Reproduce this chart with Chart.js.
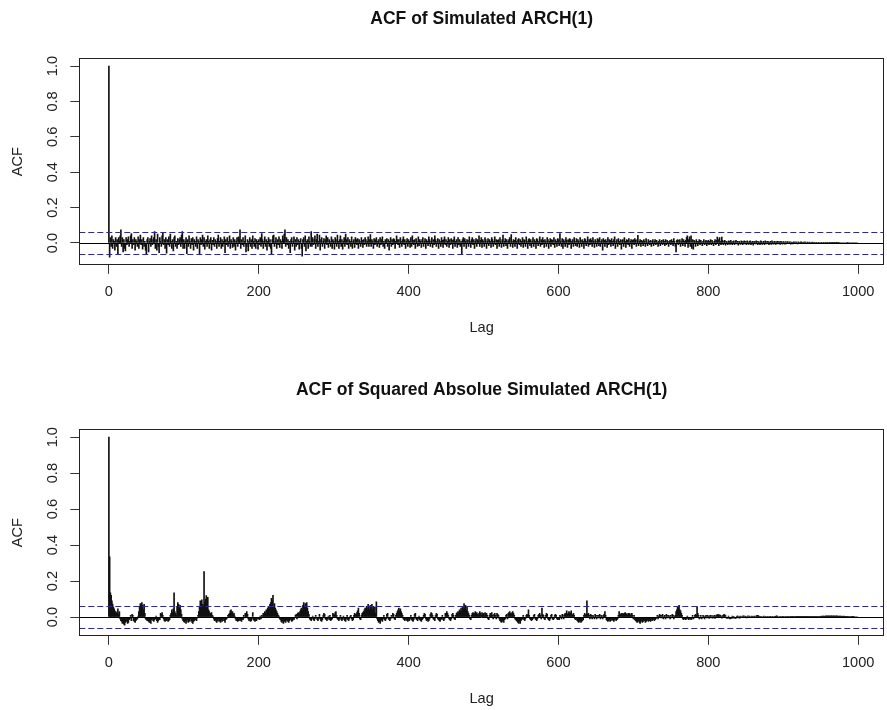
<!DOCTYPE html>
<html><head><meta charset="utf-8">
<script src="https://cdn.jsdelivr.net/npm/chart.js@4.4.1/dist/chart.umd.min.js"></script>
<style>
html,body{margin:0;padding:0;background:#fff;}
#wrap{position:relative;width:887px;height:710px;background:#fff;}
canvas{position:absolute;left:0;}
</style></head><body>
<div id="wrap">
<canvas id="c1" width="887" height="355" style="top:0px"></canvas>
<canvas id="c2" width="887" height="355" style="top:355px"></canvas>
</div>
<script>
// ---------- data ----------
const chartTitles = ['ACF of Simulated ARCH(1)', 'ACF of Squared Absolue Simulated ARCH(1)'];
const xAxisTitle = 'Lag';
const yAxisTitle = 'ACF';
const xTickValues = [0, 200, 400, 600, 800, 1000];
const yTickValues = [0, 0.2, 0.4, 0.6, 0.8, 1.0];
const confLimit = 0.062;

// ACF of the simulated series, lags 0..999 (50 lags per line)
const acfSimulated = [
1,-.08,.03,-.02,.04,-.03,.02,.01,-.04,.03,-.02,.02,-.06,.03,.01,.04,.075,-.02,.03,-.05,.02,-.03,-.045,.03,-.01,.02,.035,-.02,.01,.04,.053,-.03,.02,-.01,.03,-.04,.02,.01,-.02,.035,-.03,.02,.045,-.01,.02,-.035,.03,-.02,.01,-.04,
-.06,.02,.03,-.05,.01,.025,-.02,.04,-.01,.02,.03,.065,-.03,.02,-.04,.05,-.02,-.055,.03,.01,-.02,.04,.055,-.01,.02,-.03,.03,-.058,.02,-.01,.035,-.02,.05,.01,-.03,.02,-.045,.03,.04,-.02,.01,-.03,.025,-.01,.02,.03,-.02,.045,.065,-.03,
.02,-.03,.01,.03,-.06,.02,-.02,.04,.01,-.03,.025,-.01,.03,-.04,.02,.01,-.02,.035,-.03,.02,.01,-.065,.03,-.01,.02,.045,-.02,.03,-.035,.01,.02,-.02,.04,.01,-.03,.02,.03,-.04,.015,-.01,.03,-.02,.02,.01,-.03,.025,.045,-.02,.01,.03,
-.03,.02,-.02,.01,.035,-.055,.02,-.01,.03,-.02,.01,.04,-.03,.02,.01,-.025,.03,-.02,.02,-.04,.01,.03,-.02,.035,.02,.075,-.03,.02,-.01,.03,-.02,.01,.04,-.05,-.02,.02,-.045,.01,.03,-.02,.02,-.03,.04,.01,-.02,.025,-.03,.02,.01,-.035,
.02,-.01,.03,-.02,.053,.02,-.03,.01,.035,-.02,.02,-.04,.01,.03,-.02,.02,-.03,-.06,.02,.04,.045,-.02,.01,.03,-.03,.02,-.01,.035,-.025,.02,.01,-.03,.04,.02,.05,.075,-.02,.03,-.01,.02,-.03,.01,-.055,.02,.03,-.02,.01,.035,-.04,.02,
-.02,.03,-.01,.02,-.035,.01,.025,-.03,-.075,.02,.03,-.02,.04,-.045,.01,.02,-.03,.035,.01,-.02,.065,-.02,.03,-.01,.02,.04,-.03,.02,.05,-.02,.01,.045,-.04,.02,.03,-.02,.01,.025,-.03,.02,.04,-.01,.03,-.025,.02,.01,-.02,.035,-.03,.02,
.01,-.035,.03,.02,-.02,.045,.01,-.03,.02,.04,-.02,.02,-.035,.01,.03,-.02,.05,.02,-.01,.03,-.03,.02,.01,-.02,.035,-.03,.01,.02,-.025,.03,.02,-.01,.025,-.03,.02,.01,-.02,.03,.015,-.025,.02,-.01,.03,.02,-.02,.01,.035,-.02,.02,.047,
-.02,.02,.01,-.03,.025,-.01,.02,.03,-.02,.01,.02,-.025,.03,-.01,.02,.035,-.02,.01,-.03,.02,.01,.025,-.02,.02,-.04,.01,.03,-.02,.02,-.01,.025,.02,-.03,.01,.04,.02,-.01,.02,-.025,.03,.01,-.02,.02,.035,-.01,.02,-.03,.01,.025,-.02,
.02,.01,-.025,.03,-.02,.04,.015,-.01,.02,-.03,.025,.01,-.02,.035,-.015,.02,.01,-.025,.02,.03,-.02,.01,.025,-.03,.02,.01,-.015,.035,.02,-.02,.01,.03,-.025,.02,-.01,.04,.02,-.02,.01,.025,-.03,.02,.01,-.02,.03,.015,-.025,.02,.035,-.01,
.02,-.02,.01,.03,-.025,.02,-.01,.025,.015,-.03,.02,.035,-.02,.01,.02,-.025,.03,-.01,.02,-.02,.01,-.066,.02,.03,-.02,.025,.01,-.03,.02,.015,-.02,.035,.01,-.025,.02,.03,-.01,.02,-.03,.01,.025,-.02,.02,.01,.04,-.02,.015,.03,-.025,.02,
.01,-.02,.03,.02,-.03,.01,.025,-.015,.02,.01,-.025,.03,.02,-.02,.01,.035,-.01,.02,-.03,.015,.02,-.02,.03,.01,-.025,.02,.045,-.02,.01,.025,-.015,.02,-.03,.01,.02,.03,-.02,.047,.01,-.025,.02,.015,-.02,.03,.01,-.03,.02,.025,-.01,.02,
-.02,.01,.03,-.025,.02,.015,-.02,.035,.01,-.03,.02,.025,-.015,.02,-.025,.01,.03,-.02,.02,.01,-.03,.025,.02,-.015,.01,.035,-.02,.02,-.01,.03,.015,-.025,.02,.01,-.02,.03,.02,-.03,.01,.025,-.02,.02,.015,-.01,.03,-.025,.02,.01,-.02,.025,
.02,-.015,.053,.01,-.02,.025,-.03,.02,.01,-.02,.03,.015,-.025,.02,-.01,.025,.02,-.03,.01,.02,-.02,.03,.01,-.015,.025,-.02,.02,.01,-.025,.03,.015,-.02,.02,.01,-.03,.025,.02,-.015,.01,.035,-.02,.02,-.01,.025,.015,-.02,.03,.01,-.025,.02,
.01,-.02,.025,.02,-.015,.03,-.02,.01,.02,-.04,.025,.015,-.02,.02,.01,-.025,.03,-.01,.02,.015,-.02,.025,.01,-.015,.02,.035,-.03,.01,.02,-.02,.025,.01,-.01,.02,-.035,.015,.02,-.02,.03,.01,-.025,.02,.015,-.01,.025,-.02,.01,.02,-.03,.015,
.02,-.01,.025,.015,-.02,.02,.043,-.015,.01,.02,-.02,.015,.01,-.015,.02,.01,-.02,.025,.005,-.015,.02,.01,-.01,.015,-.02,.01,.02,-.015,.01,.02,-.01,.015,.005,-.02,.01,.02,-.015,.01,.015,-.01,.02,.01,-.015,.02,-.01,.015,.01,-.02,.01,.015,
-.01,.02,.01,-.015,.025,.01,-.02,-.05,.015,.02,-.01,.015,.02,-.02,.01,.025,-.015,.02,.01,-.02,.015,.03,.04,-.025,.02,.035,-.02,.04,-.03,.02,-.035,.015,.01,-.02,.02,.01,-.015,.01,.02,-.01,.015,.005,-.015,.01,.02,-.01,.01,.015,-.015,.01,
.015,-.01,.01,.02,-.01,.015,.005,-.015,.01,.02,-.01,.015,.034,.02,-.015,.03,.01,-.01,.034,.015,-.01,.01,.015,-.012,.01,.005,-.01,.012,.01,-.008,.015,.005,-.01,.01,.012,-.01,.008,.015,-.005,.01,-.012,.01,.005,-.008,.012,.01,-.01,.008,.012,-.005,
.01,-.01,.012,.005,-.008,.01,.012,-.01,.005,.01,-.012,.008,.01,-.005,.012,.01,-.01,.008,.005,-.01,.012,.01,-.008,.005,.01,-.01,.012,.008,-.005,.01,.008,-.01,.005,.01,-.008,.012,.005,-.006,.01,.008,-.008,.006,.01,-.005,.008,.006,-.008,.01,.005,-.006,
.008,.005,-.006,.008,-.005,.006,.008,-.004,.005,.007,-.006,.005,.004,-.005,.007,.005,-.004,.006,.003,-.005,.006,.004,-.004,.005,.006,-.003,.004,.005,-.004,.006,.003,-.004,.005,.004,-.003,.005,.003,-.004,.004,.005,-.003,.004,.003,-.003,.004,.003,-.002,.004,.003,-.003,
.003,.002,-.003,.003,.002,-.002,.003,.002,-.002,.002,.003,-.002,.002,.001,-.002,.002,.001,-.001,.002,.001,-.001,.001,.002,-.001,.001,0,0,0,0,0,0,0,0,0,0,0,.002,0,0,0,0,0,0,0,0,0,0,0,0,0
];

// ACF of the squared absolute series, lags 0..999 (50 lags per line)
const acfSquared = [
1,.335,.134,.12,.09,.072,.055,.045,.035,.03,.025,.02,.045,.015,.03,-.01,-.02,-.025,-.035,-.03,-.04,-.045,-.03,-.02,-.025,-.035,-.03,-.015,-.01,.01,-.02,.015,.01,-.02,-.025,-.03,-.02,-.015,-.01,.005,.03,.06,.075,.05,.08,.065,.04,.07,.02,-.01,
-.015,-.02,-.01,-.025,-.03,-.02,-.035,-.015,-.01,-.02,-.025,-.015,-.01,.005,-.02,-.03,-.02,-.01,-.015,.02,.015,.025,.01,-.01,-.02,-.025,-.015,-.02,-.01,-.025,-.02,-.015,.01,.02,.04,.025,.045,.134,.03,.02,.01,.06,.08,.07,.05,.065,.04,.015,-.01,-.02,
-.025,-.03,-.02,-.035,-.025,-.015,-.03,-.02,-.025,-.01,-.02,-.03,-.035,-.025,-.02,-.015,-.01,-.02,-.005,.01,.03,.06,.09,.05,.096,.07,.06,.253,.08,.1,.119,.06,.11,.04,.03,.02,.015,.025,.01,.005,-.01,-.02,-.015,-.025,-.03,-.02,-.01,-.025,-.02,-.03,
-.015,-.025,-.02,-.01,-.02,-.03,-.015,-.01,-.005,.01,.015,.02,.035,.04,.025,.03,.015,.02,.005,-.01,-.02,-.015,-.025,-.02,-.01,-.02,-.015,-.025,-.01,-.015,.01,-.005,.02,.01,.03,.015,-.01,-.02,-.015,-.025,-.02,-.01,.025,-.015,-.02,-.025,-.015,-.02,-.01,-.005,
-.01,-.015,.005,-.01,.01,.005,.02,.015,.03,.025,.04,.03,.05,.06,.045,.07,.08,.104,.09,.12,.06,.075,.05,.04,.03,.02,.01,.005,-.01,-.015,-.025,-.03,-.02,-.035,-.025,-.02,-.03,-.015,-.02,-.025,-.03,-.02,-.01,-.015,-.025,-.02,-.01,-.015,-.005,.01,
.015,-.01,.02,.025,.015,.03,.04,.05,.035,.065,.08,.06,.075,.045,.08,.05,.03,.015,-.01,-.015,-.02,-.01,.005,-.015,-.02,-.01,.01,-.005,-.015,-.02,-.01,.015,-.01,-.02,-.025,-.015,.01,.02,.015,-.01,-.015,-.02,-.01,.005,-.015,.01,-.02,-.015,-.01,.02,
.015,.01,.025,.03,.01,-.01,-.015,-.02,-.01,.01,-.015,-.02,-.01,.005,-.015,-.02,-.025,-.01,.01,-.015,-.02,-.01,.005,.01,-.01,-.02,-.015,.01,.02,.015,.01,.025,.035,.05,.02,-.01,-.015,.01,.02,.025,.03,.04,.05,.035,.06,.045,.07,.055,.04,.065,
.05,.07,.04,.06,.03,.055,.02,.085,-.01,-.02,-.03,-.025,-.035,-.02,-.015,-.025,-.01,.01,-.015,-.02,-.01,.015,.02,-.01,-.015,-.02,-.01,.01,-.005,.02,.015,-.01,-.015,.01,.02,.03,.04,.05,.035,.045,.03,.02,.01,-.01,-.015,-.02,-.01,-.015,-.02,-.025,
-.015,-.02,-.01,.01,-.015,-.02,-.025,-.015,.015,.02,-.01,-.015,-.02,-.01,.005,-.015,-.02,-.025,-.015,-.01,.01,.02,.015,-.01,-.02,-.015,-.025,-.02,-.01,.015,.025,.02,.01,-.01,-.015,-.02,.01,.02,.015,-.01,-.015,-.02,-.025,-.015,-.01,.01,-.015,-.02,-.01,.02,
.015,.03,.02,.01,-.01,-.015,-.02,-.01,.015,.02,.01,-.01,-.015,.01,.02,.025,.03,.02,.04,.03,.05,.035,.06,.045,.075,.05,.065,.04,.055,.03,.02,.01,-.01,-.015,.01,.02,.025,.015,.02,.03,.02,.025,.015,.01,.02,.03,.02,.01,.025,.015,
.02,.01,.025,.015,.02,.01,-.01,-.015,.01,.02,.015,.025,.01,-.01,.015,.02,.01,-.01,.02,.015,.01,-.01,-.02,-.025,-.03,-.02,-.025,-.03,-.015,-.01,.01,.015,-.01,.02,.025,.03,.02,.015,.025,.03,.02,.01,-.01,-.015,-.02,-.025,-.03,-.035,-.025,-.035,
-.02,-.015,-.01,.01,-.015,-.02,-.01,.01,.015,.01,.04,.01,-.01,-.015,-.02,-.015,-.01,.01,.015,-.01,-.015,-.02,-.01,.01,.015,.02,.01,-.01,.05,.015,.01,-.01,-.015,.01,.02,.015,-.01,-.015,-.02,-.01,.01,.015,-.01,-.015,-.01,.01,.015,.01,-.01,-.015,
-.01,-.015,.01,.005,-.01,.015,.01,-.01,.015,.02,.01,.035,.015,.02,.03,.025,.02,.035,.015,.01,.02,.01,-.01,-.015,-.01,-.02,-.025,-.03,-.025,-.02,-.03,-.025,-.02,-.015,.01,.02,.01,.015,.09,.015,.02,.01,-.01,.015,.01,-.01,.01,.005,-.01,.015,
.01,-.01,.01,-.005,.01,.015,-.01,.01,.005,-.01,.01,.015,.03,.01,-.015,-.02,-.025,-.02,-.015,-.025,-.02,-.01,-.015,-.02,-.025,-.015,-.01,-.02,-.015,-.01,.01,.03,.01,.015,.02,.01,.02,.015,.02,.025,.02,.015,.01,.02,.015,.02,.01,.015,.02,.01,
-.01,.01,-.015,-.02,-.025,-.03,-.025,-.02,-.03,-.035,-.025,-.02,-.03,-.025,-.015,-.02,-.03,-.025,-.02,-.015,-.025,-.02,-.015,-.025,-.01,-.02,-.015,-.01,-.02,-.015,-.01,-.005,.01,-.01,.005,.015,.01,-.005,.01,.015,-.01,.005,.01,-.01,.015,.01,-.005,.01,.005,-.01,
.01,-.005,.015,.01,-.01,.005,.01,.03,.04,.06,.05,.065,.04,.035,.02,.01,-.01,-.015,-.01,-.005,-.015,-.01,.005,-.01,-.015,-.01,-.005,-.015,-.01,.01,-.01,-.005,.01,.015,.01,.058,.02,.01,-.01,-.005,.01,-.01,-.005,.01,.005,-.01,.005,.01,-.005,.01,
.005,-.008,.006,.01,-.005,.008,-.006,.005,.01,-.008,.006,.012,.01,.015,.008,.012,.01,.005,-.006,.008,.01,.015,.012,.008,-.005,-.008,-.006,.005,-.008,-.01,-.006,-.008,.005,-.006,.004,-.005,-.008,-.006,.004,.006,-.005,.004,-.006,.005,.003,-.004,.005,.006,-.004,.005,
.004,-.005,.003,.006,-.004,.005,.003,-.004,.005,.004,-.003,.005,.004,-.003,.006,.008,.01,.006,.004,-.003,.004,.003,-.004,.003,.005,-.003,.004,.003,-.002,.004,.003,-.003,.002,.004,-.002,.003,.002,-.003,.003,.002,.004,.006,.005,.003,-.002,.003,.002,-.002,.003,.002,
.002,-.002,.003,.002,-.002,.002,.003,.001,-.002,.002,.003,.002,.001,.003,.002,-.001,.002,.003,.002,.001,.002,.003,.002,.002,.001,.003,.002,.001,.002,.003,.002,.001,.002,.003,.004,.003,.002,.003,.002,.003,.004,.003,.002,.003,.004,.003,.003,.004,.003,.003,
.004,.005,.004,.005,.005,.004,.005,.005,.006,.005,.005,.006,.005,.005,.006,.005,.005,.006,.005,.005,.005,.006,.005,.005,.004,.005,.005,.004,.005,.004,.004,.005,.004,.004,.004,.003,.004,.003,.003,.003,.003,.003,.002,.002,.002,0,0,0,0,0
];

// ---------- rendering ----------
const FONT = "'Liberation Sans', Arial, Helvetica, sans-serif";

const framePlugin = {
  id: 'acfFrame',
  afterDatasetsDraw(chart) {
    const {ctx, chartArea: a, scales: {y}} = chart;
    ctx.save();
    ctx.beginPath();
    ctx.rect(a.left, a.top, a.right - a.left, a.bottom - a.top);
    ctx.clip();
    const y0 = Math.round(y.getPixelForValue(0)) + 0.5;
    ctx.strokeStyle = '#000';
    ctx.lineWidth = 1;
    ctx.setLineDash([]);
    ctx.beginPath(); ctx.moveTo(a.left, y0); ctx.lineTo(a.right, y0); ctx.stroke();
    ctx.strokeStyle = '#1f1ff0';
    ctx.setLineDash([6, 3]);
    [confLimit, -confLimit].forEach(v => {
      const yy = Math.round(y.getPixelForValue(v)) + 0.5;
      ctx.beginPath(); ctx.moveTo(a.left, yy); ctx.lineTo(a.right, yy); ctx.stroke();
    });
    ctx.restore();
  },
  afterDraw(chart) {
    const {ctx, chartArea: a} = chart;
    ctx.save();
    ctx.strokeStyle = '#222';
    ctx.lineWidth = 1;
    const l = Math.round(a.left) + 0.5, t = Math.round(a.top) + 0.5;
    const r = Math.round(a.right) - 0.5, b = Math.round(a.bottom) - 0.5;
    ctx.strokeRect(l, t, r - l, b - t);
    ctx.restore();
  }
};

function makeChart(id, values, title, o) {
  const pts = values.map((v, i) => ({x: i, y: v}));
  return new Chart(document.getElementById(id), {
    type: 'bar',
    data: { datasets: [{ data: pts, backgroundColor: '#111', borderWidth: 0, barThickness: 1, grouped: false }] },
    options: {
      responsive: false, animation: false, events: [],
      layout: { padding: { left: 0, right: 3, top: 0, bottom: 0 } },
      plugins: {
        legend: { display: false }, tooltip: { enabled: false },
        title: { display: true, fullSize: false, text: title, color: '#111',
          font: { family: FONT, size: 17.5, weight: 'bold', lineHeight: 1.2 },
          padding: { top: o.titleTop, bottom: o.titleBottom } }
      },
      scales: {
        x: {
          type: 'linear', min: -39.5, max: 1034.5, offset: false,
          afterBuildTicks: s => { s.ticks = xTickValues.map(v => ({value: v})); },
          afterFit: s => { s.height = o.xHeight; },
          ticks: { autoSkip: false, minRotation: 0, maxRotation: 0, padding: 9, color: '#222',
            font: { family: FONT, size: 14.6 }, callback: v => String(v) },
          grid: { display: true, offset: false, drawOnChartArea: false, drawTicks: true, tickLength: 9, color: '#333', lineWidth: 1 },
          border: { display: false },
          title: { display: true, text: xAxisTitle, color: '#222', font: { family: FONT, size: 14.6, lineHeight: 1.2 },
            padding: { top: 0, bottom: o.lagBottom } }
        },
        y: {
          min: o.yMin, max: 1.0432,
          afterBuildTicks: s => { s.ticks = yTickValues.map(v => ({value: v})); },
          afterFit: s => { s.width = 79.3; },
          ticks: { autoSkip: false, minRotation: 90, maxRotation: 90, crossAlign: 'center', padding: 7.5, color: '#222',
            font: { family: FONT, size: 14.6 }, callback: v => Number(v).toFixed(1) },
          grid: { display: true, drawOnChartArea: false, drawTicks: true, tickLength: 9, color: '#333', lineWidth: 1 },
          border: { display: false },
          title: { display: true, text: yAxisTitle, color: '#222', font: { family: FONT, size: 14.6, lineHeight: 1.2 },
            padding: { top: 9.25, bottom: 0 } }
        }
      }
    },
    plugins: [framePlugin]
  });
}

makeChart('c1', acfSimulated, chartTitles[0], { titleTop: 8.5, titleBottom: 28.9, xHeight: 90.2, lagBottom: 18.2, yMin: -0.1232 });
makeChart('c2', acfSquared, chartTitles[1], { titleTop: 24.3, titleBottom: 29.1, xHeight: 74.2, lagBottom: 2.2, yMin: -0.1045 });
</script>
</body></html>
